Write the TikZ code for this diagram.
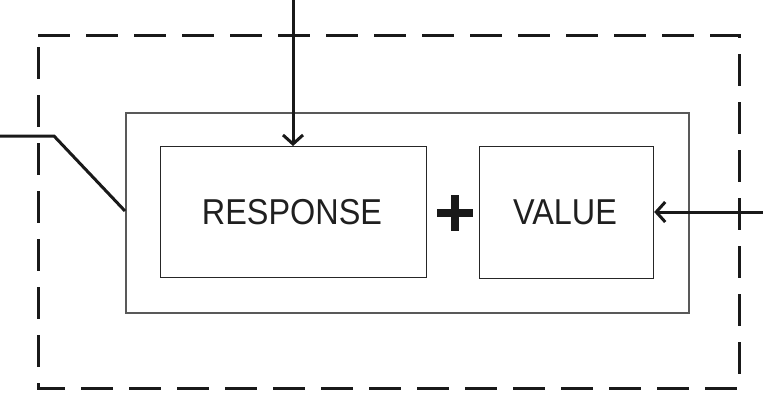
\documentclass[tikz,border=0pt]{standalone}
\usepackage{fontspec}
\setmainfont{Liberation Sans}
\usetikzlibrary{arrows.meta,calc}
\begin{document}
\begin{tikzpicture}[x=1bp,y=-1bp,
  boxstyle/.style={draw=black!85, line width=1.2bp, inner sep=0pt},
  lbl/.style={font=\fontsize{36bp}{40bp}\selectfont, text=black!88},
  conn/.style={draw=black!90, line width=3bp},
  arr/.style={conn, -{Straight Barb[length=9bp,width=20bp,line width=3bp]}}]
\useasboundingbox (0,0) rectangle (763,405);
% outer dashed frame
\draw[black!90, line width=3bp, dash pattern=on 32bp off 16bp, dash phase=0bp] (38,35) -- (739,35) -- (739,388) -- (38,388) -- cycle;
% inner container
\node[draw=black!65, line width=1.5bp, minimum width=563bp, minimum height=200bp, anchor=north west, inner sep=0pt] (inner) at (125,112) {};
% boxes
\node[boxstyle, minimum width=266bp, minimum height=131bp, anchor=north west] (resp) at (160,146) {};
\node[boxstyle, minimum width=174bp, minimum height=132bp, anchor=north west] (val) at (479,146) {};
\node[lbl] (resptext) at (292,212) {\scalebox{0.9}[1]{RESPONSE}};
\node[lbl] (valtext) at (565,212) {\scalebox{0.9}[1]{VALUE}};
% plus sign
\coordinate (plus) at (455,213);
\draw[black!90, line width=8.5bp] ($(plus)+(-18,0)$) -- ($(plus)+(18,0)$);
\draw[black!90, line width=8.5bp] ($(plus)+(0,-18)$) -- ($(plus)+(0,18)$);
% connectors
\coordinate (topin) at (293,0);
\coordinate (rightin) at (763,212);
\coordinate (leftin) at (0,136);
\coordinate (bend) at (54,136);
\draw[arr] (topin) -- (resp.north -| topin);
\draw[arr] (rightin) -- (val.east |- rightin);
\draw[conn, line join=miter] (leftin) -- (bend) -- (inner.west |- 0,211);
\end{tikzpicture}
\end{document}
